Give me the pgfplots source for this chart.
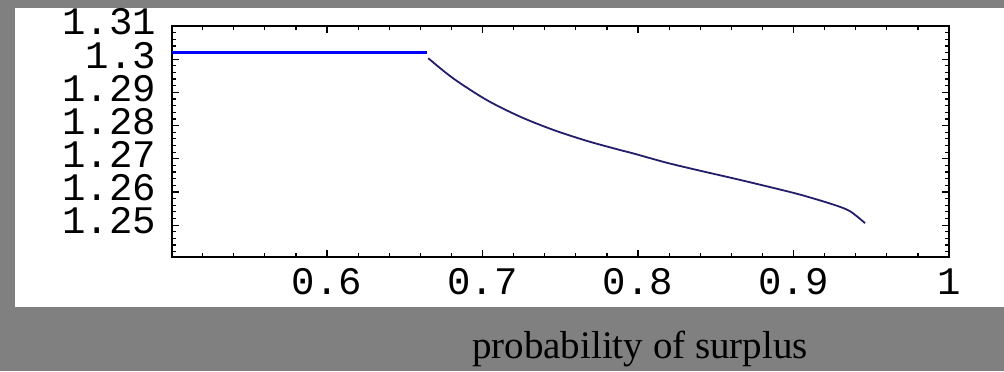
\documentclass[border=0pt]{standalone}
\usepackage{pgfplots}
\pgfplotsset{compat=1.18}
\usepackage{fontspec}
\setmainfont{Liberation Serif}
\setmonofont{Liberation Mono}
\definecolor{bggray}{RGB}{128,128,128}
\definecolor{navy}{RGB}{35,30,105}
\begin{document}
\begin{tikzpicture}
\path[use as bounding box] (0pt,0pt) rectangle (502pt,185.5pt);
\fill[bggray] (0pt,0pt) rectangle (502pt,185.5pt);
\fill[white] (7.5pt,32pt) rectangle (502pt,181.5pt);
\begin{axis}[
  at={(85.75pt,57pt)}, anchor=south west,
  scale only axis, width=388.75pt, height=115.5pt,
  xmin=0.5, xmax=1.0, ymin=1.2404, ymax=1.31,
  axis line style={line width=1pt, black},
  tick style={line width=0.6pt, black},
  tick align=inside,
  major tick length=3.5pt, minor tick length=2pt,
  xtick={0.6,0.7,0.8,0.9,1.0},
  xticklabels={0.6,0.7,0.8,0.9,1},
  minor xtick={0.52,0.54,0.56,0.58,0.62,0.64,0.66,0.68,0.72,0.74,0.76,0.78,0.82,0.84,0.86,0.88,0.92,0.94,0.96,0.98},
  ytick={1.25,1.26,1.27,1.28,1.29,1.30,1.31},
  yticklabels={1.25,1.26,1.27,1.28,1.29,1.3,1.31},
  minor ytick={1.242,1.244,1.246,1.248,1.252,1.254,1.256,1.258,1.262,1.264,1.266,1.268,1.272,1.274,1.276,1.278,1.282,1.284,1.286,1.288,1.292,1.294,1.296,1.298,1.302,1.304,1.306,1.308},
  /pgf/number format/assume math mode=true,
  ticklabel style={font=\fontsize{19.5}{20}\selectfont\ttfamily},
  yticklabel style={anchor=east, inner sep=0pt, xshift=-7.5pt, yshift=2pt},
  xticklabel style={anchor=north, inner sep=0pt, yshift=-5.5pt},
  xlabel={probability of surplus},
  x label style={at={(rel axis cs:0.6026,-0.4372)}, anchor=base, font=\fontsize{19.5}{20}\selectfont, text=black},
  clip=false,
]
\addplot[blue, line width=1.5pt] coordinates {(0.5,1.3020) (0.6643,1.3020)};
\addplot[navy, line width=0.9pt, smooth, tension=0.5] coordinates {
(0.6651,1.3003) (0.6812,1.2942) (0.7027,1.2877) (0.7241,1.2827) (0.7455,1.2787)
(0.7670,1.2754) (0.7863,1.2729) (0.7970,1.2716) (0.8185,1.2688) (0.8399,1.2664)
(0.8613,1.2641) (0.8828,1.2617) (0.9042,1.2592) (0.9256,1.2562) (0.9363,1.2542)
(0.9460,1.2506)};
\end{axis}
\end{tikzpicture}
\end{document}
